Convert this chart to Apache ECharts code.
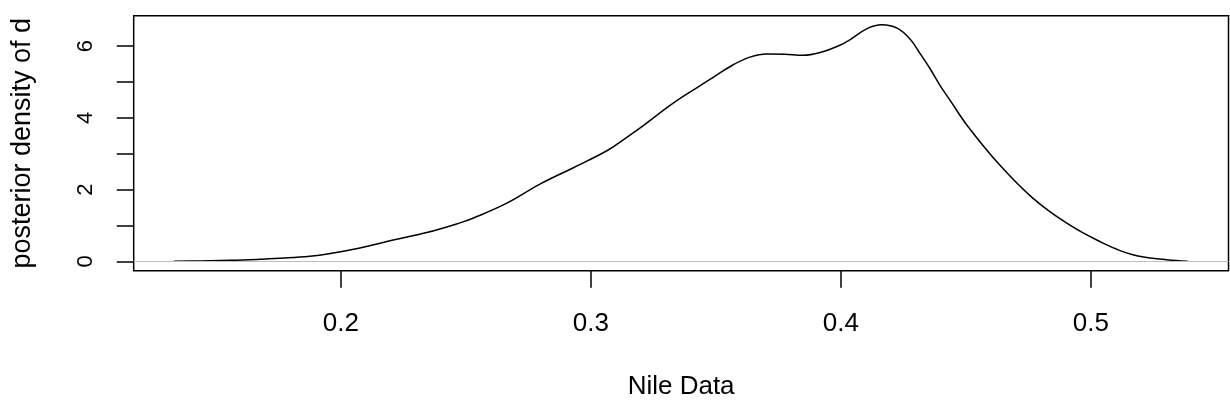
<!DOCTYPE html>
<html>
<head>
<meta charset="utf-8">
<script src="https://cdn.jsdelivr.net/npm/echarts@6/dist/echarts.min.js"></script>
<style>
  html, body { margin: 0; padding: 0; background: #fff; }
  #main { width: 1230px; height: 410px; }
</style>
</head>
<body>
<div id="main"></div>
<script>
// posterior density of d
var densX = [0.1332, 0.1436, 0.1556, 0.1676, 0.1776, 0.1876, 0.1946, 0.2076, 0.2209, 0.2343,
             0.2476, 0.2528, 0.2664, 0.2796, 0.2928, 0.3064, 0.3128, 0.3196, 0.3328, 0.3436,
             0.3488, 0.3568, 0.3636, 0.3704, 0.3776, 0.3848, 0.3928, 0.3996, 0.4024, 0.4107,
             0.4164, 0.4227, 0.4280, 0.4316, 0.4356, 0.4396, 0.4436, 0.4504, 0.4636, 0.4768,
             0.4904, 0.5036, 0.5168, 0.5304, 0.5388];
var densY = [0, 0.01, 0.025, 0.056, 0.09, 0.14, 0.2, 0.37, 0.59, 0.8,
             1.07, 1.2, 1.62, 2.15, 2.6, 3.08, 3.38, 3.71, 4.40, 4.89,
             5.12, 5.47, 5.69, 5.78, 5.77, 5.74, 5.84, 6.02, 6.12, 6.49,
             6.59, 6.49, 6.17, 5.80, 5.38, 4.91, 4.50, 3.80, 2.68, 1.76,
             1.06, 0.55, 0.18, 0.04, 0];
var xTicks = [0.2, 0.3, 0.4, 0.5];
var yTicks = [0, 1, 2, 3, 4, 5, 6];
var yLabels = [0, 2, 4, 6];

var font = '"Liberation Sans", Arial, Helvetica, sans-serif';

var points = densX.map(function (x, i) { return [x, densY[i]]; });

var chart = echarts.init(document.getElementById('main'));

var option = {
    animation: false,
    backgroundColor: '#fff',
    grid: {
        left: 133.7, right: 1.5, top: 15.7, bottom: 139.3,
        show: true, borderColor: '#000', borderWidth: 1.5, backgroundColor: 'transparent'
    },
    xAxis: {
        type: 'value',
        min: 0.1171, max: 0.5551,
        name: 'Nile Data',
        nameLocation: 'middle',
        nameGap: 103,
        nameTextStyle: { fontFamily: font, fontSize: 26, color: '#000' },
        axisLine: { show: false, onZero: false },
        axisTick: { show: true, customValues: xTicks, length: 17, lineStyle: { color: '#000', width: 1.5 } },
        axisLabel: {
            customValues: xTicks, margin: 40,
            fontFamily: font, fontSize: 26, color: '#000',
            formatter: function (v) { return v.toFixed(1); }
        },
        splitLine: { show: false }
    },
    yAxis: {
        type: 'value',
        min: -0.263, max: 6.845,
        name: 'posterior density of d',
        nameLocation: 'middle',
        nameGap: 98,
        nameTextStyle: { fontFamily: font, fontSize: 27, color: '#000' },
        axisLine: { show: false, onZero: false },
        axisTick: { show: true, customValues: yTicks, length: 17, lineStyle: { color: '#000', width: 1.5 } },
        axisLabel: {
            customValues: yLabels, rotate: 90, margin: 37,
            fontFamily: font, fontSize: 22, color: '#000'
        },
        splitLine: { show: false }
    },
    series: [{
        type: 'line',
        data: points,
        smooth: 0.4,
        showSymbol: false,
        lineStyle: { color: '#000', width: 1.5 },
        markLine: {
            silent: true,
            symbol: 'none',
            label: { show: false },
            lineStyle: { color: '#bebebe', width: 1, type: 'solid' },
            data: [{ yAxis: 0 }]
        },
        z: 3
    }]
};

chart.setOption(option);
</script>
</body>
</html>
